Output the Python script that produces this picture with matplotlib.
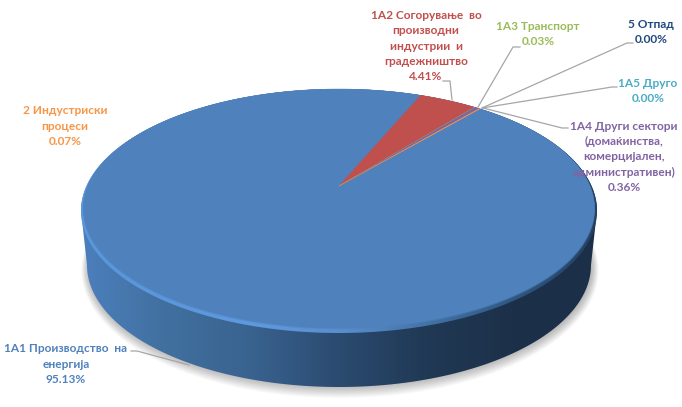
import numpy as np
import matplotlib
matplotlib.use("Agg")
import matplotlib.pyplot as plt
from matplotlib.colors import LinearSegmentedColormap
from matplotlib.patches import Polygon

plt.rcParams['font.family'] = ['Lato', 'Noto Sans', 'DejaVu Sans']

# Data
categories = ["1А1 Производство  на\nенергија",
              "1А2 Согорување  во\nпроизводни\nиндустрии  и\nградежништво",
              "1А3 Транспорт",
              "1А4 Други сектори\n(домаќинства,\nкомерцијален,\nадминистративен)",
              "1А5 Друго",
              "2 Индустриски\nпроцеси",
              "5 Отпад"]
values = [95.13, 4.41, 0.03, 0.36, 0.00, 0.07, 0.00]
colors = ["#4F81BD", "#C0504D", "#9BBB59", "#8064A2", "#4BACC6", "#F79646", "#1F497D"]

# label centre in pixels, then the leader line points
label_pos = [(66, 364), (426, 46), (538, 34), (624, 157), (648, 91), (65, 126), (651, 32)]
leaders = [[(131, 351), (137, 351), (189, 365)],
           [(443, 81), (450, 81), (452, 100)],
           [(520, 47), (513, 47), (478, 107)],
           [(568, 128), (562, 128), (483, 108)],
           [(617, 87), (612, 87), (482, 108)],
           None,
           [(633, 43), (627, 43), (482, 108)]]

W, H = 682, 407
CX, CY, A, B = 339.0, 211.0, 258.0, 122.0   # rim of the top face
BEVEL = 2.5
APEX_Y = 188.0                              # pie centre under perspective
START = 50.0                                # degrees, goes clockwise


def rim(cx, cy, a, b, t0=0.0, t1=2 * np.pi, n=400):
    t = np.linspace(t0, t1, n)
    return np.column_stack([cx + a * np.cos(t), cy - b * np.sin(t)])


def project(u, v):
    # unit circle -> ellipse, keeps the rim but moves the centre up
    c = (CY - APEX_Y) / B
    d = 1 + c * v
    x = u * np.sqrt(1 - c * c) / d
    y = (v + c) / d
    return CX + (A - BEVEL) * x, CY - BEVEL - (B - BEVEL) * y


def gradient(ax, stops, clip, zorder):
    cmap = LinearSegmentedColormap.from_list("g", stops)
    img = ax.imshow(np.linspace(0, 1, 512).reshape(1, -1), cmap=cmap, aspect="auto",
                    extent=(CX - A - 3, CX + A + 3, H, 0), zorder=zorder)
    img.set_clip_path(Polygon(clip, transform=ax.transData))


fig = plt.figure(figsize=(W / 100, H / 100), dpi=100)
ax = fig.add_axes([0, 0, 1, 1])

# soft shadow below the disc
for i in range(12):
    pts = rim(CX + 1, 267 + i * 0.3, 252 + i * 0.6, 120 + i * 0.7)
    ax.fill(pts[:, 0], pts[:, 1], color="black", alpha=0.022, lw=0, zorder=1)

# side of the disc
upper = rim(CX, CY, A, B, 0, np.pi)
lower = rim(CX, 265, 252, 122, np.pi, 2 * np.pi)
gradient(ax, ["#4C80BE", "#41709F", "#39628F", "#2B4B70", "#203955", "#1D3049", "#1C2F48"],
         np.vstack([upper, lower]), 2)

# bevel round the top face
gradient(ax, ["#5B97DC", "#5B97DC", "#5F9ADF", "#5A8FD0", "#4473A8", "#2F5780", "#243F60"],
         rim(CX, CY, A, B), 3)

# blur the inner edge of the bevel
for i in range(3):
    pts = rim(CX, CY - BEVEL + 0.4 * i, A - BEVEL + 0.4 * i, B - BEVEL + 0.4 * i)
    ax.fill(pts[:, 0], pts[:, 1], color=colors[0], alpha=0.3, lw=0, zorder=4)

# top face, one slice per value
edges = START - np.cumsum([0] + values) * 3.6
for v, col, a0, a1 in zip(values, colors, edges[:-1], edges[1:]):
    if v <= 0:
        continue
    n = max(2, int(abs(a1 - a0)) + 2)
    th = np.radians(np.linspace(a0, a1, n))
    px, py = project(np.r_[0, np.cos(th)], np.r_[0, np.sin(th)])
    ax.fill(px, py, color=col, lw=0.3, zorder=5)

# leader lines and labels
for cat, v, col, pos, line in zip(categories, values, colors, label_pos, leaders):
    if line is not None:
        ax.plot([p[0] for p in line], [p[1] for p in line], color="#A6A6A6", lw=0.9, zorder=6)
    ax.text(pos[0], pos[1], "{:s}\n{:.2f}%".format(cat, v), color=col, fontsize=8.6,
            fontweight="bold", ha="center", va="center", linespacing=1.47, zorder=7)

ax.set_xlim(0, W)
ax.set_ylim(H, 0)
ax.axis("off")

fig.savefig("out.png", dpi=100)
